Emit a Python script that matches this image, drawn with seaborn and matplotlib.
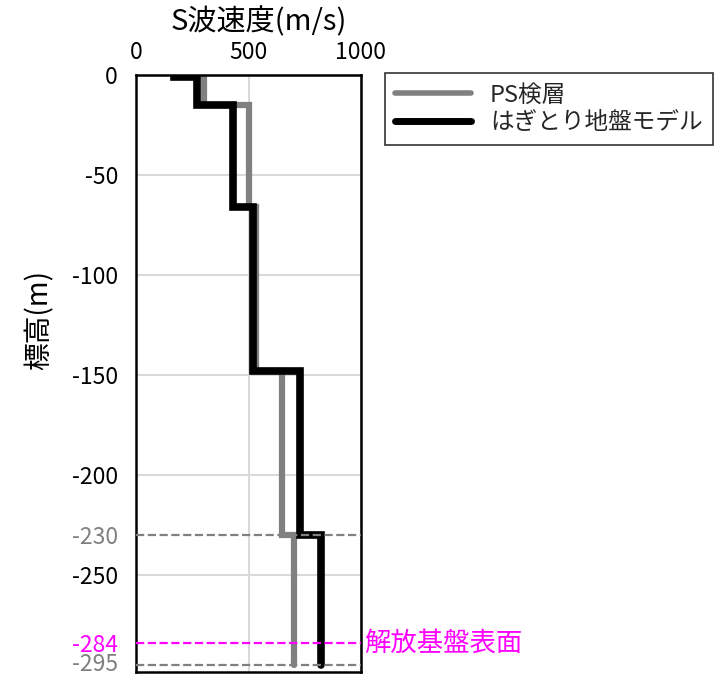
import numpy as np
import pandas as pd
import seaborn as sns
import matplotlib.pyplot as plt
import matplotlib.transforms as mtransforms

# layer boundaries (elevation, m) and S-wave velocity (m/s)
ps_bounds = [0, -15, -66, -148, -230, -295]
ps_vs = [300, 500, 535, 650, 700]

model_bounds = [0, -1, -15, -66, -148, -230, -295]
model_vs = [170, 270, 430, 520, 730, 820]

y_major = [0, -50, -100, -150, -200, -250]
y_extra = [-230, -284, -295]
extra_colors = ['#808080', '#ff00ff', '#808080']


def steps(bounds, vs, name):
    xs, ys = [], []
    for i, v in enumerate(vs):
        xs += [v, v]
        ys += [bounds[i], bounds[i + 1]]
    return pd.DataFrame({'vs': xs, 'z': ys, 'series': name})


df = pd.concat([steps(ps_bounds, ps_vs, 'PS検層'),
                steps(model_bounds, model_vs, 'はぎとり地盤モデル')])

sns.set_style('white')
plt.rcParams['font.family'] = ['Noto Sans CJK JP', 'DejaVu Sans']
plt.rcParams['axes.unicode_minus'] = False

fig = plt.figure(figsize=(7.14, 6.77), dpi=100)
ax = fig.add_axes([0.1905, 0.0074, 0.3151, 0.8818])

sns.lineplot(data=df, x='vs', y='z', hue='series', sort=False, estimator=None,
             palette={'PS検層': '#808080', 'はぎとり地盤モデル': 'black'},
             ax=ax, legend=False)
ax.lines[0].set_linewidth(4.5)
ax.lines[1].set_linewidth(5.5)
for ln in ax.lines:
    ln.set_solid_joinstyle('miter')

ax.set_xlim(0, 1000)
ax.set_ylim(-298.5, 0)
ax.xaxis.tick_top()
ax.xaxis.set_label_position('top')
ax.set_xticks([0, 500, 1000])
ax.set_yticks(y_major)
ax.set_yticks(y_extra, minor=True)
ax.set_yticklabels([str(v) for v in y_extra], minor=True)
ax.tick_params(which='both', length=0, labelsize=16.5, pad=13, labelcolor='black')
ax.tick_params(axis='x', labelsize=16.5, pad=8)
minor_labels = ax.get_yticklabels(minor=True)
for lab, c in zip(minor_labels, extra_colors):
    lab.set_color(c)
# nudge the bottom label up a little so it stays inside the figure
lab = minor_labels[-1]
lab.set_transform(lab.get_transform()
                  + mtransforms.ScaledTranslation(0, 3 / 100, fig.dpi_scale_trans))

ax.grid(True, which='major', color='#d9d9d9', lw=1.5)
ax.set_axisbelow(True)

for s in ax.spines.values():
    s.set_color('black')
    s.set_linewidth(1.8)

ax.axhline(-230, color='#808080', ls='--', lw=1.6, zorder=5)
ax.axhline(-295, color='#808080', ls='--', lw=1.6, zorder=5)
ax.axhline(-284, color='#ff00ff', ls='--', lw=1.6, zorder=5)
ax.text(1015, -284, '解放基盤表面', color='#ff00ff', fontsize=19,
        va='center', ha='left', clip_on=False)

ax.set_xlabel('S波速度(m/s)', fontsize=21, labelpad=8, color='black')
ax.xaxis.set_label_coords(0.545, 1.075)
ax.set_ylabel('標高(m)', fontsize=20, color='black')
ax.yaxis.set_label_coords(-0.36, 0.59)

handles = [plt.Line2D([], [], color='#808080', lw=4),
           plt.Line2D([], [], color='black', lw=5)]
leg = fig.legend(handles, ['PS検層', 'はぎとり地盤モデル'], loc='upper left',
                 bbox_to_anchor=(0.539, 0.892), fontsize=17, frameon=True,
                 fancybox=False, edgecolor='black', handlelength=3.2,
                 borderaxespad=0, labelspacing=0.2, borderpad=0.45)
leg.get_frame().set_linewidth(1.2)

fig.savefig('out.png', dpi=100)
